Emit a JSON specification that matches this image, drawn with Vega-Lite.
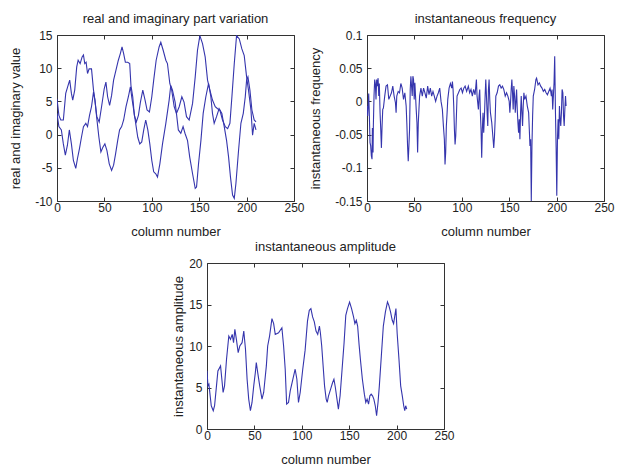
{
  "$schema": "https://vega.github.io/schema/vega-lite/v6.json",
  "background": "#ffffff",
  "padding": {"left": 9, "top": 12, "right": 2, "bottom": 0},
  "config": {
    "font": "Liberation Sans",
    "view": {"stroke": "#333333", "strokeWidth": 1},
    "axis": {
      "grid": false,
      "domain": false,
      "labelFlush": false,
      "tickSize": -4,
      "tickColor": "#333333",
      "labelFontSize": 12,
      "labelColor": "#222222",
      "titleFontSize": 13,
      "titleFontWeight": "normal",
      "titleColor": "#222222"
    },
    "axisX": {"labelPadding": 5, "titlePadding": 12},
    "axisY": {"labelPadding": 9, "titlePadding": 12},
    "title": {"fontSize": 13, "fontWeight": "normal", "color": "#222222", "offset": 3}
  },
  "datasets": {
    "reim": [
      {"x":0,"part":"re","v":5.4},{"x":2,"part":"re","v":2.9},{"x":4,"part":"re","v":2.2},{"x":6.7,"part":"re","v":2.2},{"x":9.2,"part":"re","v":6.2},{"x":11.7,"part":"re","v":7.4},{"x":13.4,"part":"re","v":8.2},{"x":15.2,"part":"re","v":6.2},{"x":16.6,"part":"re","v":5.2},{"x":18.7,"part":"re","v":6.7},{"x":20.8,"part":"re","v":10.2},{"x":22.3,"part":"re","v":11.2},{"x":24.4,"part":"re","v":10.7},{"x":26.5,"part":"re","v":11.7},{"x":27.9,"part":"re","v":12},{"x":29.3,"part":"re","v":10.7},{"x":30.7,"part":"re","v":10.9},{"x":32.2,"part":"re","v":9.2},{"x":33.9,"part":"re","v":9.9},{"x":36.4,"part":"re","v":9.9},{"x":38.5,"part":"re","v":6.7},{"x":40,"part":"re","v":5.2},{"x":42,"part":"re","v":2.7},{"x":44.5,"part":"re","v":1.9},{"x":47,"part":"re","v":4.2},{"x":49.8,"part":"re","v":6.9},{"x":51.6,"part":"re","v":7.9},{"x":53.4,"part":"re","v":5.7},{"x":55.5,"part":"re","v":4.4},{"x":57.6,"part":"re","v":5.9},{"x":59.7,"part":"re","v":8.2},{"x":62.2,"part":"re","v":9.7},{"x":64.7,"part":"re","v":11.2},{"x":66.8,"part":"re","v":12.2},{"x":68.6,"part":"re","v":13.2},{"x":70.3,"part":"re","v":12.2},{"x":72.1,"part":"re","v":10.9},{"x":74.6,"part":"re","v":10.9},{"x":76.7,"part":"re","v":10.7},{"x":78,"part":"re","v":7.4},{"x":79.9,"part":"re","v":5.7},{"x":81.6,"part":"re","v":2.9},{"x":83.7,"part":"re","v":1.9},{"x":85.9,"part":"re","v":2.9},{"x":88,"part":"re","v":4.9},{"x":90.5,"part":"re","v":6.7},{"x":92.9,"part":"re","v":5.2},{"x":95,"part":"re","v":3.7},{"x":97.5,"part":"re","v":3.4},{"x":100,"part":"re","v":5.7},{"x":102,"part":"re","v":8.2},{"x":104.6,"part":"re","v":11.2},{"x":107.7,"part":"re","v":13.2},{"x":109.5,"part":"re","v":13.9},{"x":112,"part":"re","v":12.7},{"x":114.8,"part":"re","v":11.2},{"x":116.5,"part":"re","v":10.7},{"x":119,"part":"re","v":7.7},{"x":121,"part":"re","v":6.7},{"x":123.6,"part":"re","v":4.2},{"x":126,"part":"re","v":3.2},{"x":128.9,"part":"re","v":4.2},{"x":131.7,"part":"re","v":5.7},{"x":134,"part":"re","v":4.9},{"x":136.6,"part":"re","v":2.7},{"x":139.4,"part":"re","v":2.2},{"x":143,"part":"re","v":4.7},{"x":145.8,"part":"re","v":8.7},{"x":148.2,"part":"re","v":12.7},{"x":150.7,"part":"re","v":14.9},{"x":153.5,"part":"re","v":13.7},{"x":156.3,"part":"re","v":11.7},{"x":158.8,"part":"re","v":8.2},{"x":161.3,"part":"re","v":6.7},{"x":164,"part":"re","v":5.2},{"x":166.9,"part":"re","v":4.2},{"x":169.4,"part":"re","v":3.9},{"x":171.8,"part":"re","v":3.7},{"x":174.6,"part":"re","v":2.2},{"x":177.5,"part":"re","v":1.2},{"x":180,"part":"re","v":0.9},{"x":182.4,"part":"re","v":1.7},{"x":184.5,"part":"re","v":5.7},{"x":187,"part":"re","v":10.7},{"x":189.4,"part":"re","v":14.9},{"x":192.3,"part":"re","v":14.4},{"x":195,"part":"re","v":12.9},{"x":197.5,"part":"re","v":11.9},{"x":200,"part":"re","v":8.7},{"x":202,"part":"re","v":6.7},{"x":204.6,"part":"re","v":3.7},{"x":206.3,"part":"re","v":-0.1},{"x":208,"part":"re","v":1.7},{"x":209.9,"part":"re","v":0.7},
      {"x":0,"part":"im","v":3.2},{"x":2,"part":"im","v":1.2},{"x":4.6,"part":"im","v":0.7},{"x":6.7,"part":"im","v":-1.4},{"x":8.8,"part":"im","v":-3.1},{"x":11,"part":"im","v":-1.6},{"x":13,"part":"im","v":0.7},{"x":15.2,"part":"im","v":-1.4},{"x":17.3,"part":"im","v":-3.9},{"x":19.8,"part":"im","v":-5.1},{"x":21.6,"part":"im","v":-3.6},{"x":23.7,"part":"im","v":-2.1},{"x":25.8,"part":"im","v":-0.4},{"x":27.9,"part":"im","v":1.2},{"x":30.4,"part":"im","v":1.7},{"x":32.2,"part":"im","v":1.2},{"x":34.3,"part":"im","v":2.9},{"x":36.4,"part":"im","v":4.2},{"x":38.5,"part":"im","v":6.4},{"x":40,"part":"im","v":5.2},{"x":42,"part":"im","v":2.4},{"x":44.2,"part":"im","v":-0.4},{"x":46.3,"part":"im","v":-2.6},{"x":48.4,"part":"im","v":-1.9},{"x":50.5,"part":"im","v":-1.4},{"x":52.7,"part":"im","v":-2.4},{"x":55.1,"part":"im","v":-4.4},{"x":57.6,"part":"im","v":-5.4},{"x":59.7,"part":"im","v":-4.6},{"x":61.8,"part":"im","v":-2.9},{"x":64,"part":"im","v":-0.9},{"x":66,"part":"im","v":0.7},{"x":68.2,"part":"im","v":1.2},{"x":70.3,"part":"im","v":2.2},{"x":72.8,"part":"im","v":4.2},{"x":75.3,"part":"im","v":5.7},{"x":77.4,"part":"im","v":7.2},{"x":78.8,"part":"im","v":5.7},{"x":80.9,"part":"im","v":3.7},{"x":83,"part":"im","v":1.7},{"x":85.2,"part":"im","v":-0.4},{"x":87.3,"part":"im","v":-1.4},{"x":89.4,"part":"im","v":-1.1},{"x":91.5,"part":"im","v":0.7},{"x":93.6,"part":"im","v":2.2},{"x":95.8,"part":"im","v":0.7},{"x":97.9,"part":"im","v":-1.4},{"x":100,"part":"im","v":-3.9},{"x":102,"part":"im","v":-5.6},{"x":104.2,"part":"im","v":-5.9},{"x":106,"part":"im","v":-6.4},{"x":108.5,"part":"im","v":-4.4},{"x":111.3,"part":"im","v":-1.4},{"x":114.8,"part":"im","v":1.7},{"x":118.3,"part":"im","v":5.2},{"x":120,"part":"im","v":7.4},{"x":121.8,"part":"im","v":6.7},{"x":124.6,"part":"im","v":4.9},{"x":126,"part":"im","v":3.2},{"x":128,"part":"im","v":0.7},{"x":130.6,"part":"im","v":0.2},{"x":133,"part":"im","v":1.2},{"x":135,"part":"im","v":0.2},{"x":137.7,"part":"im","v":-0.9},{"x":140,"part":"im","v":-3.4},{"x":143,"part":"im","v":-5.9},{"x":145.8,"part":"im","v":-8.1},{"x":147.2,"part":"im","v":-7.9},{"x":149.3,"part":"im","v":-4.4},{"x":151.8,"part":"im","v":-0.9},{"x":154.2,"part":"im","v":3.2},{"x":157,"part":"im","v":5.7},{"x":159.9,"part":"im","v":7.7},{"x":162.3,"part":"im","v":5.7},{"x":164,"part":"im","v":3.2},{"x":165.8,"part":"im","v":1.7},{"x":168.3,"part":"im","v":2.7},{"x":171,"part":"im","v":3.9},{"x":173.9,"part":"im","v":3.2},{"x":176.4,"part":"im","v":1.2},{"x":178.9,"part":"im","v":-0.9},{"x":181,"part":"im","v":-3.4},{"x":183,"part":"im","v":-6.4},{"x":185.2,"part":"im","v":-9.1},{"x":187,"part":"im","v":-9.6},{"x":188.7,"part":"im","v":-7.4},{"x":191.5,"part":"im","v":-2.4},{"x":194,"part":"im","v":1.7},{"x":196.5,"part":"im","v":3.2},{"x":198.6,"part":"im","v":5.7},{"x":200,"part":"im","v":8.2},{"x":201.4,"part":"im","v":8.7},{"x":203.5,"part":"im","v":6.7},{"x":205.6,"part":"im","v":3.7},{"x":208,"part":"im","v":2.2},{"x":209.9,"part":"im","v":1.9}
    ],
    "freq": [
      {"x":0,"f":-0.007},{"x":0.7,"f":-0.022},{"x":1.8,"f":0.012},{"x":2.5,"f":-0.022},{"x":3.2,"f":-0.062},{"x":3.9,"f":-0.067},{"x":4.6,"f":-0.082},{"x":5.3,"f":-0.087},{"x":5.7,"f":-0.04},{"x":6.4,"f":-0.077},{"x":6.7,"f":-0.037},{"x":7.4,"f":0.008},{"x":8.1,"f":0.033},{"x":8.8,"f":0.027},{"x":9.5,"f":0.003},{"x":10.2,"f":0.033},{"x":11,"f":0.023},{"x":11.7,"f":0.035},{"x":12.4,"f":0.008},{"x":13,"f":0.027},{"x":13.8,"f":-0.017},{"x":14.5,"f":-0.042},{"x":15.2,"f":-0.07},{"x":15.9,"f":-0.037},{"x":16.6,"f":-0.012},{"x":17.3,"f":-0.01},{"x":18.7,"f":0.008},{"x":20.1,"f":0.023},{"x":21.6,"f":0.025},{"x":23,"f":0.003},{"x":24.4,"f":0.008},{"x":25.8,"f":0.013},{"x":27.2,"f":0.023},{"x":28.6,"f":0.008},{"x":30,"f":-0.002},{"x":30.7,"f":-0.017},{"x":31.4,"f":0.008},{"x":32.9,"f":0.015},{"x":34.3,"f":0.013},{"x":35.7,"f":0.027},{"x":37.1,"f":0.02},{"x":38.5,"f":0.003},{"x":39.9,"f":0.013},{"x":41.3,"f":-0.007},{"x":42,"f":-0.032},{"x":42.8,"f":-0.067},{"x":43.5,"f":-0.09},{"x":44.2,"f":-0.067},{"x":44.9,"f":-0.042},{"x":45.6,"f":0.018},{"x":46.3,"f":0.038},{"x":47,"f":0.023},{"x":47.7,"f":0.008},{"x":48.4,"f":0.038},{"x":49.1,"f":0.033},{"x":49.8,"f":0.003},{"x":50.5,"f":0.028},{"x":51.2,"f":0.008},{"x":51.9,"f":-0.012},{"x":52.7,"f":-0.032},{"x":53.4,"f":-0.077},{"x":54.1,"f":-0.032},{"x":54.8,"f":-0.012},{"x":55.5,"f":0.008},{"x":56.9,"f":0.02},{"x":58.3,"f":0.008},{"x":59.7,"f":0.02},{"x":61.1,"f":0.013},{"x":62.5,"f":0.005},{"x":64,"f":0.023},{"x":65.4,"f":0.01},{"x":66.8,"f":0.02},{"x":68.2,"f":0.008},{"x":69.6,"f":0.015},{"x":71,"f":0.008},{"x":72.4,"f":0},{"x":73.9,"f":0.008},{"x":75.3,"f":0.013},{"x":76.7,"f":0.02},{"x":78.1,"f":0},{"x":79.5,"f":-0.012},{"x":80.6,"f":-0.037},{"x":81.6,"f":-0.057},{"x":82.3,"f":-0.095},{"x":83,"f":-0.077},{"x":83.7,"f":-0.037},{"x":84.5,"f":-0.017},{"x":85.2,"f":0.003},{"x":86.6,"f":0.02},{"x":88,"f":0.027},{"x":89.4,"f":0.02},{"x":90.1,"f":0.03},{"x":90.8,"f":0.018},{"x":91.5,"f":-0.007},{"x":92.2,"f":-0.042},{"x":92.9,"f":-0.065},{"x":93.6,"f":-0.052},{"x":94.3,"f":-0.022},{"x":95,"f":0.008},{"x":96.5,"f":0.013},{"x":97.9,"f":0.018},{"x":99.3,"f":0.02},{"x":100.7,"f":0.013},{"x":102.1,"f":0.02},{"x":103.5,"f":0.023},{"x":105.1,"f":0.015},{"x":106.9,"f":0.023},{"x":108.3,"f":0.013},{"x":109.7,"f":0.018},{"x":111.1,"f":0.008},{"x":112.5,"f":0.018},{"x":114,"f":0.01},{"x":115.4,"f":0.033},{"x":116.1,"f":0.008},{"x":116.8,"f":-0.002},{"x":117.5,"f":-0.012},{"x":118.2,"f":0.008},{"x":118.9,"f":0.018},{"x":119.6,"f":-0.017},{"x":120.3,"f":-0.042},{"x":121,"f":-0.085},{"x":121.7,"f":-0.042},{"x":122.4,"f":-0.017},{"x":123.1,"f":-0.047},{"x":123.9,"f":-0.022},{"x":124.6,"f":0.008},{"x":125.3,"f":0.033},{"x":126,"f":0.008},{"x":126.7,"f":-0.017},{"x":127.4,"f":-0.037},{"x":128.1,"f":0.018},{"x":128.8,"f":0.033},{"x":129.5,"f":0.003},{"x":130.2,"f":-0.017},{"x":131.6,"f":-0.032},{"x":133,"f":-0.057},{"x":133.7,"f":-0.07},{"x":134.5,"f":-0.052},{"x":135.2,"f":-0.027},{"x":135.9,"f":0.008},{"x":137.3,"f":0.013},{"x":138.7,"f":0.023},{"x":140.1,"f":0.025},{"x":141.5,"f":0.02},{"x":142.9,"f":0.023},{"x":144.3,"f":0.018},{"x":145.8,"f":0.008},{"x":147.2,"f":0.013},{"x":148.6,"f":0.008},{"x":150,"f":0},{"x":150.7,"f":-0.017},{"x":151.4,"f":-0.002},{"x":152.1,"f":0.018},{"x":152.8,"f":0.033},{"x":153.5,"f":0.013},{"x":154.2,"f":-0.012},{"x":154.9,"f":0.023},{"x":155.7,"f":0.008},{"x":156.4,"f":-0.017},{"x":157.1,"f":0},{"x":157.8,"f":0.018},{"x":158.5,"f":-0.012},{"x":159.2,"f":-0.032},{"x":159.9,"f":-0.047},{"x":160.6,"f":-0.027},{"x":161.3,"f":-0.057},{"x":162,"f":-0.017},{"x":162.7,"f":0.008},{"x":163.4,"f":-0.017},{"x":164.1,"f":-0.037},{"x":164.8,"f":-0.007},{"x":165.5,"f":0.013},{"x":166.3,"f":0.003},{"x":167.7,"f":0.008},{"x":169.1,"f":-0.007},{"x":170.5,"f":-0.017},{"x":171.2,"f":-0.042},{"x":171.9,"f":-0.067},{"x":172.6,"f":-0.057},{"x":173.3,"f":-0.15},{"x":174,"f":-0.067},{"x":174.7,"f":-0.022},{"x":175.4,"f":0.008},{"x":176.8,"f":0.018},{"x":178.2,"f":0.033},{"x":178.9,"f":0.035},{"x":180.4,"f":0.025},{"x":181.8,"f":0.028},{"x":183.2,"f":0.023},{"x":184.6,"f":0.02},{"x":186,"f":0.015},{"x":187.5,"f":0.018},{"x":188.9,"f":0.013},{"x":190.3,"f":0.01},{"x":191.7,"f":0.015},{"x":193.1,"f":0.02},{"x":193.8,"f":0.015},{"x":194.5,"f":0.008},{"x":195.2,"f":0.018},{"x":195.9,"f":-0.012},{"x":196.6,"f":0.008},{"x":197.3,"f":0.028},{"x":198,"f":0.068},{"x":198.8,"f":-0.017},{"x":199.5,"f":-0.07},{"x":200.2,"f":-0.142},{"x":200.9,"f":-0.057},{"x":201.6,"f":-0.027},{"x":202.3,"f":-0.057},{"x":203,"f":-0.007},{"x":203.7,"f":-0.027},{"x":204.4,"f":-0.037},{"x":205.1,"f":-0.017},{"x":205.8,"f":0.018},{"x":206.6,"f":0.013},{"x":207.3,"f":-0.022},{"x":208,"f":-0.037},{"x":208.7,"f":-0.012},{"x":209.4,"f":0.008},{"x":210,"f":-0.007}
    ],
    "amp": [
      {"x":0,"a":7.0},{"x":1,"a":5.2},{"x":2,"a":5.4},{"x":4.5,"a":2.8},{"x":6.6,"a":2.2},{"x":8,"a":2.8},{"x":10,"a":5.2},{"x":11.5,"a":7},{"x":14.3,"a":7.6},{"x":16,"a":5.6},{"x":17,"a":4.4},{"x":18.5,"a":5.2},{"x":20.6,"a":8.4},{"x":23,"a":11.2},{"x":24.8,"a":10.8},{"x":26.6,"a":11.4},{"x":28,"a":10.4},{"x":29.4,"a":12},{"x":31,"a":10.8},{"x":32.9,"a":9.2},{"x":34.6,"a":10},{"x":37,"a":10.4},{"x":38.8,"a":11.8},{"x":40.6,"a":9.6},{"x":42.3,"a":6},{"x":44,"a":3.6},{"x":45.8,"a":2.2},{"x":47.5,"a":3.2},{"x":49.3,"a":5.2},{"x":51,"a":6.8},{"x":52,"a":8},{"x":53.5,"a":6.8},{"x":55.6,"a":5.2},{"x":58,"a":3.6},{"x":59.8,"a":4.4},{"x":62.6,"a":7.6},{"x":64,"a":10},{"x":66,"a":11.2},{"x":68.5,"a":13.3},{"x":70.3,"a":12.7},{"x":72,"a":11.4},{"x":75.5,"a":11.6},{"x":79,"a":12.2},{"x":80.8,"a":10},{"x":82.5,"a":7.2},{"x":84,"a":3},{"x":86,"a":3.2},{"x":87.8,"a":4.6},{"x":90.6,"a":6},{"x":93,"a":7.2},{"x":94.8,"a":6},{"x":96.5,"a":3.2},{"x":98.3,"a":4.4},{"x":101,"a":7.2},{"x":103.5,"a":9.5},{"x":106,"a":13},{"x":107.9,"a":14.3},{"x":109.6,"a":14.5},{"x":111.4,"a":13.5},{"x":113.2,"a":12.9},{"x":115,"a":11.8},{"x":116.8,"a":11.4},{"x":118.6,"a":12.4},{"x":119.6,"a":11.6},{"x":121,"a":10},{"x":122.5,"a":7.6},{"x":124,"a":5.2},{"x":125.7,"a":3.6},{"x":126.8,"a":3.2},{"x":128.2,"a":4},{"x":130.4,"a":4.8},{"x":132.5,"a":5.6},{"x":133.9,"a":6},{"x":135.4,"a":5},{"x":137.1,"a":3.6},{"x":138.6,"a":2.4},{"x":140.4,"a":4},{"x":142.5,"a":7.2},{"x":144.6,"a":10.4},{"x":146.4,"a":13.7},{"x":148.2,"a":14.5},{"x":150.4,"a":15.3},{"x":152.5,"a":14.5},{"x":154.6,"a":13.5},{"x":156,"a":12.7},{"x":157.5,"a":13.1},{"x":158.9,"a":12.4},{"x":160.4,"a":10.2},{"x":161.8,"a":8.4},{"x":163.9,"a":6},{"x":166,"a":4.2},{"x":167.5,"a":3.2},{"x":168.9,"a":3.6},{"x":170.4,"a":3},{"x":171.8,"a":4},{"x":173.2,"a":4.2},{"x":174.6,"a":4},{"x":176,"a":3.6},{"x":177.5,"a":2.8},{"x":178.9,"a":1.6},{"x":180.4,"a":3.2},{"x":181.8,"a":5.2},{"x":183.9,"a":8.8},{"x":186,"a":12.4},{"x":188.2,"a":14.1},{"x":190.4,"a":15.3},{"x":191.8,"a":14.9},{"x":193.6,"a":14.1},{"x":195.4,"a":13.1},{"x":196.8,"a":12.7},{"x":198.2,"a":13.7},{"x":199.3,"a":14.5},{"x":200.6,"a":11.5},{"x":202.5,"a":8.4},{"x":204.3,"a":5.2},{"x":206,"a":4},{"x":207.5,"a":2.8},{"x":208.6,"a":2.2},{"x":209.6,"a":2.8},{"x":210.7,"a":2.4}
    ]
  },
  "vconcat": [
    {
      "hconcat": [
        {
          "title": "real and imaginary part variation",
          "width": 237, "height": 166,
          "data": {"name": "reim"},
          "layer": [
            {
              "mark": {"type": "line", "color": "#3535ad", "strokeWidth": 1.1, "clip": true},
              "encoding": {
                "x": {"field": "x", "type": "quantitative", "scale": {"domain": [0, 250], "nice": false}, "axis": {"values": [0, 50, 100, 150, 200, 250], "title": "column number"}},
                "y": {"field": "v", "type": "quantitative", "scale": {"domain": [-10, 15], "nice": false}, "axis": {"values": [-10, -5, 0, 5, 10, 15], "title": "real and imaginary value", "labelExpr": "datum.value < 0 ? '-' + format(-datum.value, '~g') : format(datum.value, '~g')"}},
                "detail": {"field": "part"}
              }
            },
            {
              "mark": {"type": "point", "opacity": 0},
              "encoding": {
                "x": {"field": "x", "type": "quantitative", "axis": {"orient": "top", "values": [0, 50, 100, 150, 200, 250], "labels": false, "title": null}},
                "y": {"field": "v", "type": "quantitative", "axis": {"orient": "right", "values": [-10, -5, 0, 5, 10, 15], "labels": false, "title": null}}
              }
            }
          ],
          "resolve": {"axis": {"x": "independent", "y": "independent"}}
        },
        {
          "title": "instantaneous frequency",
          "width": 237, "height": 166,
          "data": {"name": "freq"},
          "layer": [
            {
              "mark": {"type": "line", "color": "#3535ad", "strokeWidth": 1.1, "clip": true},
              "encoding": {
                "x": {"field": "x", "type": "quantitative", "scale": {"domain": [0, 250], "nice": false}, "axis": {"values": [0, 50, 100, 150, 200, 250], "title": "column number"}},
                "y": {"field": "f", "type": "quantitative", "scale": {"domain": [-0.15, 0.1], "nice": false}, "axis": {"values": [-0.15, -0.1, -0.05, 0, 0.05, 0.1], "title": "instantaneous frequency", "labelExpr": "datum.value < 0 ? '-' + format(-datum.value, '~g') : format(datum.value, '~g')"}}
              }
            },
            {
              "mark": {"type": "point", "opacity": 0},
              "encoding": {
                "x": {"field": "x", "type": "quantitative", "axis": {"orient": "top", "values": [0, 50, 100, 150, 200, 250], "labels": false, "title": null}},
                "y": {"field": "f", "type": "quantitative", "axis": {"orient": "right", "values": [-0.15, -0.1, -0.05, 0, 0.05, 0.1], "labels": false, "title": null}}
              }
            }
          ],
          "resolve": {"axis": {"x": "independent", "y": "independent"}}
        }
      ],
      "spacing": 4
    },
    {
      "hconcat": [
        {
          "width": 110, "height": 166,
          "view": {"stroke": null},
          "data": {"values": [{"x": 0}]},
          "mark": {"type": "point", "opacity": 0},
          "encoding": {}
        },
        {
          "title": "instantaneous amplitude",
          "width": 237, "height": 166,
          "data": {"name": "amp"},
          "layer": [
            {
              "mark": {"type": "line", "color": "#3535ad", "strokeWidth": 1.1, "clip": true},
              "encoding": {
                "x": {"field": "x", "type": "quantitative", "scale": {"domain": [0, 250], "nice": false}, "axis": {"values": [0, 50, 100, 150, 200, 250], "title": "column number"}},
                "y": {"field": "a", "type": "quantitative", "scale": {"domain": [0, 20], "nice": false}, "axis": {"values": [0, 5, 10, 15, 20], "title": "instantaneous amplitude", "titlePadding": 3}}
              }
            },
            {
              "mark": {"type": "point", "opacity": 0},
              "encoding": {
                "x": {"field": "x", "type": "quantitative", "axis": {"orient": "top", "values": [0, 50, 100, 150, 200, 250], "labels": false, "title": null}},
                "y": {"field": "a", "type": "quantitative", "axis": {"orient": "right", "values": [0, 5, 10, 15, 20], "labels": false, "title": null}}
              }
            }
          ],
          "resolve": {"axis": {"x": "independent", "y": "independent"}}
        }
      ],
      "spacing": 5
    }
  ],
  "spacing": 1
}
